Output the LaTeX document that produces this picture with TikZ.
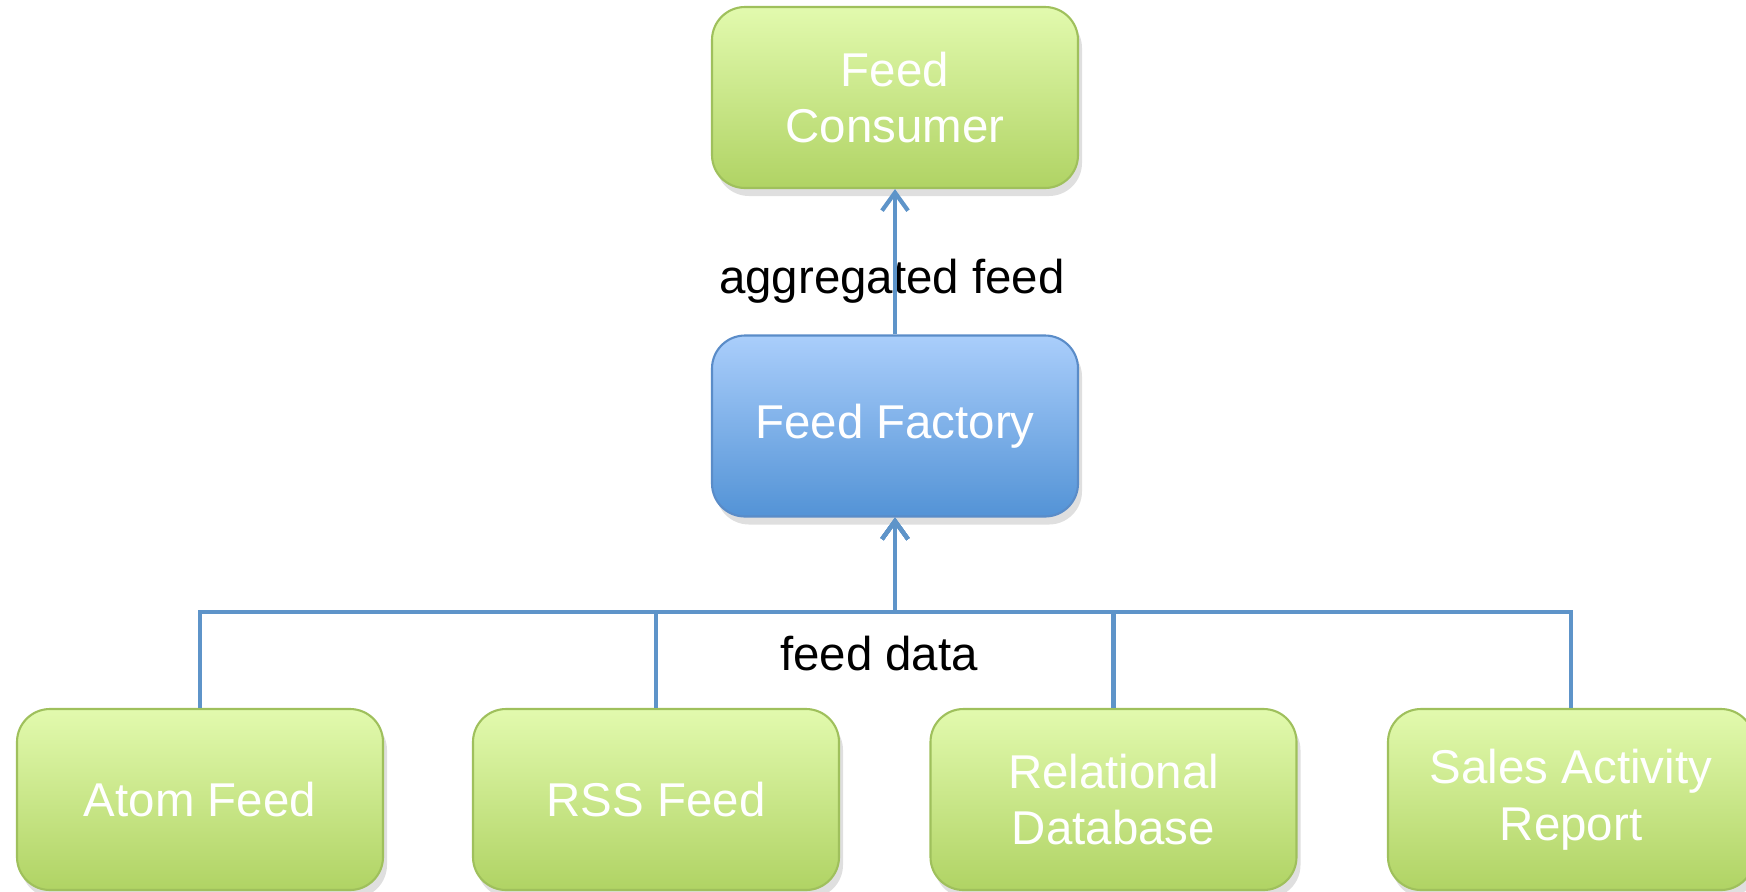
\documentclass[tikz,border=0pt]{standalone}
\usepackage{fontspec}
\setmainfont{Liberation Sans}
\usetikzlibrary{arrows.meta,shadows}

\definecolor{greentop}{HTML}{E2FAAE}
\definecolor{greenbottom}{HTML}{B0D364}
\definecolor{greenline}{HTML}{9FC05C}
\definecolor{bluetop}{HTML}{AACEFB}
\definecolor{bluebottom}{HTML}{5393D6}
\definecolor{blueline}{HTML}{5A8CC8}
\definecolor{flowblue}{HTML}{5E94C9}

\begin{document}
\begin{tikzpicture}[
            font=\fontsize{13.5pt}{16.2pt}\selectfont,
            box/.style={rounded corners=3.3mm, minimum width=3.66cm, minimum height=1.81cm,
                inner sep=0pt, align=center, text=white, line width=0.6pt,
                drop shadow={shadow xshift=0.4mm, shadow yshift=-0.8mm, opacity=0.25}},
            greenbox/.style={box, draw=greenline, top color=greentop, bottom color=greenbottom},
            bluebox/.style={box, draw=blueline, top color=bluetop, bottom color=bluebottom},
            flow/.style={draw=flowblue, line width=1.2pt, -{Straight Barb[length=1.8mm,width=2.6mm]}},
            flowlabel/.style={anchor=base, text=black}]
            \useasboundingbox (0,0) rectangle (17.46,-8.91);

            \node[greenbox] (consumer) at (8.95,-0.975) {Feed\\Consumer};
            \node[bluebox] (factory) at (8.95,-4.26) {Feed Factory};

            \node[greenbox] (atom) at (2.00,-7.995) {Atom Feed};
            \node[greenbox] (rss) at (6.56,-7.995) {RSS Feed};
            \node[greenbox] (relational) at (11.135,-7.995) {Relational\\Database};
            \node[greenbox] (sales) at (15.71,-7.995) {Sales Activity\\Report};

            \node[flowlabel] (aggregated) at (8.92,-2.93) {aggregated feed};
            \node[flowlabel] (feeddata) at (8.79,-6.70) {feed data};

            \draw[flow] (factory.north) -- (consumer.south);
            \foreach \src in {atom,rss,relational,sales}
                \draw[flow] (\src.north) -- ++(0,0.96) -| (factory.south);
        \end{tikzpicture}
\end{document}
